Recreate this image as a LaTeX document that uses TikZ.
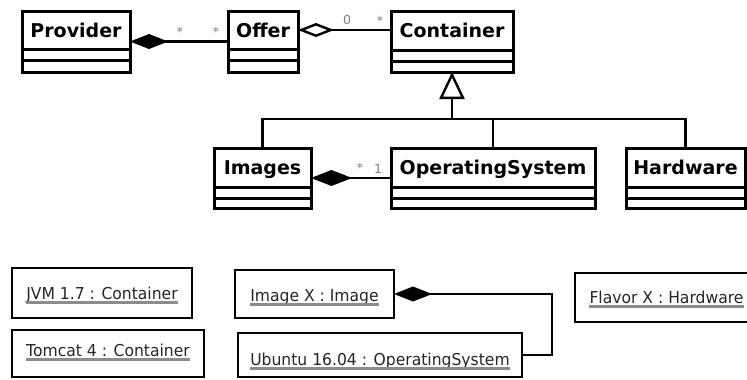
\documentclass[tikz,border=0pt]{standalone}
\usepackage{fontspec}
\setmainfont{DejaVu Sans}
\newfontfamily\objfont[FakeStretch=0.95]{DejaVu Sans}
\usetikzlibrary{arrows.meta,calc}
\tikzset{
  clsbox/.style={draw, line width=3pt, inner sep=0pt, outer sep=0pt, anchor=north west},
  objbox/.style={draw, line width=2.8pt, inner sep=0pt, outer sep=0pt, anchor=north west},
  clsline/.style={line width=3pt},
  clsname/.style={font=\bfseries\fontsize{19}{20}\selectfont, inner sep=0pt, anchor=base},
  objtext/.style={font=\objfont\fontsize{16.4}{18}\selectfont, text=black!85, inner sep=0pt, anchor=base},
  ulin/.style={draw=black!45, line width=2.2pt},
  conn/.style={line width=2.4pt},
  mult/.style={font=\fontsize{12.5}{13}\selectfont, text=black!50, inner sep=0pt, anchor=base},
}
\newcommand\umlcls[7]{%
  \node[clsbox, minimum width={(#4-#2)*1pt}, minimum height={(#5-#3)*1pt}] (#1) at (#2,#3) {};
  \node[clsname] (#1-t) at ($(#1.north)+(0,26.5)$) {#7};
  \draw[clsline] ([yshift=-#6pt]#1.north west) -- ([yshift=-#6pt]#1.north east);
  \draw[clsline] ([yshift=-#6pt-11pt]#1.north west) -- ([yshift=-#6pt-11pt]#1.north east);
}
\newcommand\umlobj[7]{%
  \node[objbox, minimum width={(#4-#2)*1pt}, minimum height={(#5-#3)*1pt}] (#1) at (#2,#3) {};
  \node[objtext] (#1-t) at ($(#1.north)+(0,#6-#3)$) {#7};
  \draw[ulin] ([yshift=-3.5pt]#1-t.base west) -- ([yshift=-3.5pt]#1-t.base east);
}
\begin{document}
\begin{tikzpicture}[x=1pt,y=-1pt]
\fill[white] (0,0) rectangle (747,380);
\useasboundingbox (0,0) rectangle (747,380);
% classes
\umlcls{prov}{22}{11}{130}{72}{38}{Provider}
\umlcls{offer}{228}{11}{298}{72}{38}{Offer}
\umlcls{cont}{391}{11}{513}{72}{39}{Container}
\umlcls{images}{214}{148}{311}{208}{39}{Images}
\umlcls{os}{391}{148}{595}{208}{39}{OperatingSystem}
\umlcls{hw}{626}{148}{745}{208}{39}{Hardware}
% objects
\umlobj{jvm}{12}{268}{192}{318}{299}{JVM 1.7 : Container}
\umlobj{tomcat}{12}{330}{204}{377}{356}{Tomcat 4 : Container}
\umlobj{imgx}{235}{270}{394}{318}{301}{Image X : Image}
\umlobj{ubu}{238}{333}{522}{377}{365}{Ubuntu 16.04 : OperatingSystem}
\umlobj{flavor}{575}{273}{758}{322}{303}{Flavor X : Hardware}
% associations
\draw[conn, {Diamond[length=38pt,width=15pt]}-] (prov.east) -- (offer.west);
\draw[conn, {Diamond[open,fill=white,length=36pt,width=14pt]}-] ([yshift=11.5pt]offer.east) -- ([yshift=11.5pt]cont.west);
\draw[conn, {Diamond[length=41pt,width=16pt]}-] (images.east) -- (os.west);
\draw[conn, {Diamond[length=38pt,width=15pt]}-] (imgx.east) -| ([xshift=30pt]ubu.east) -- (ubu.east);
% generalization
\coordinate (gj) at (cont.south |- 0,119);
\draw[conn] (images.north) |- (gj) -| (hw.north);
\draw[conn] (os.north) -- (os.north |- gj);
\draw[conn, -{Triangle[open,fill=white,length=27pt,width=25pt]}] (gj) -- (cont.south);
% multiplicities
\node[mult] (m1) at (180,36) {*};
\node[mult] (m2) at (216,36) {*};
\node[mult] (m3) at (347,24) {0};
\node[mult] (m4) at (380,25) {*};
\node[mult] (m5) at (360,172) {*};
\node[mult] (m6) at (378,173) {1};
\end{tikzpicture}
\end{document}
